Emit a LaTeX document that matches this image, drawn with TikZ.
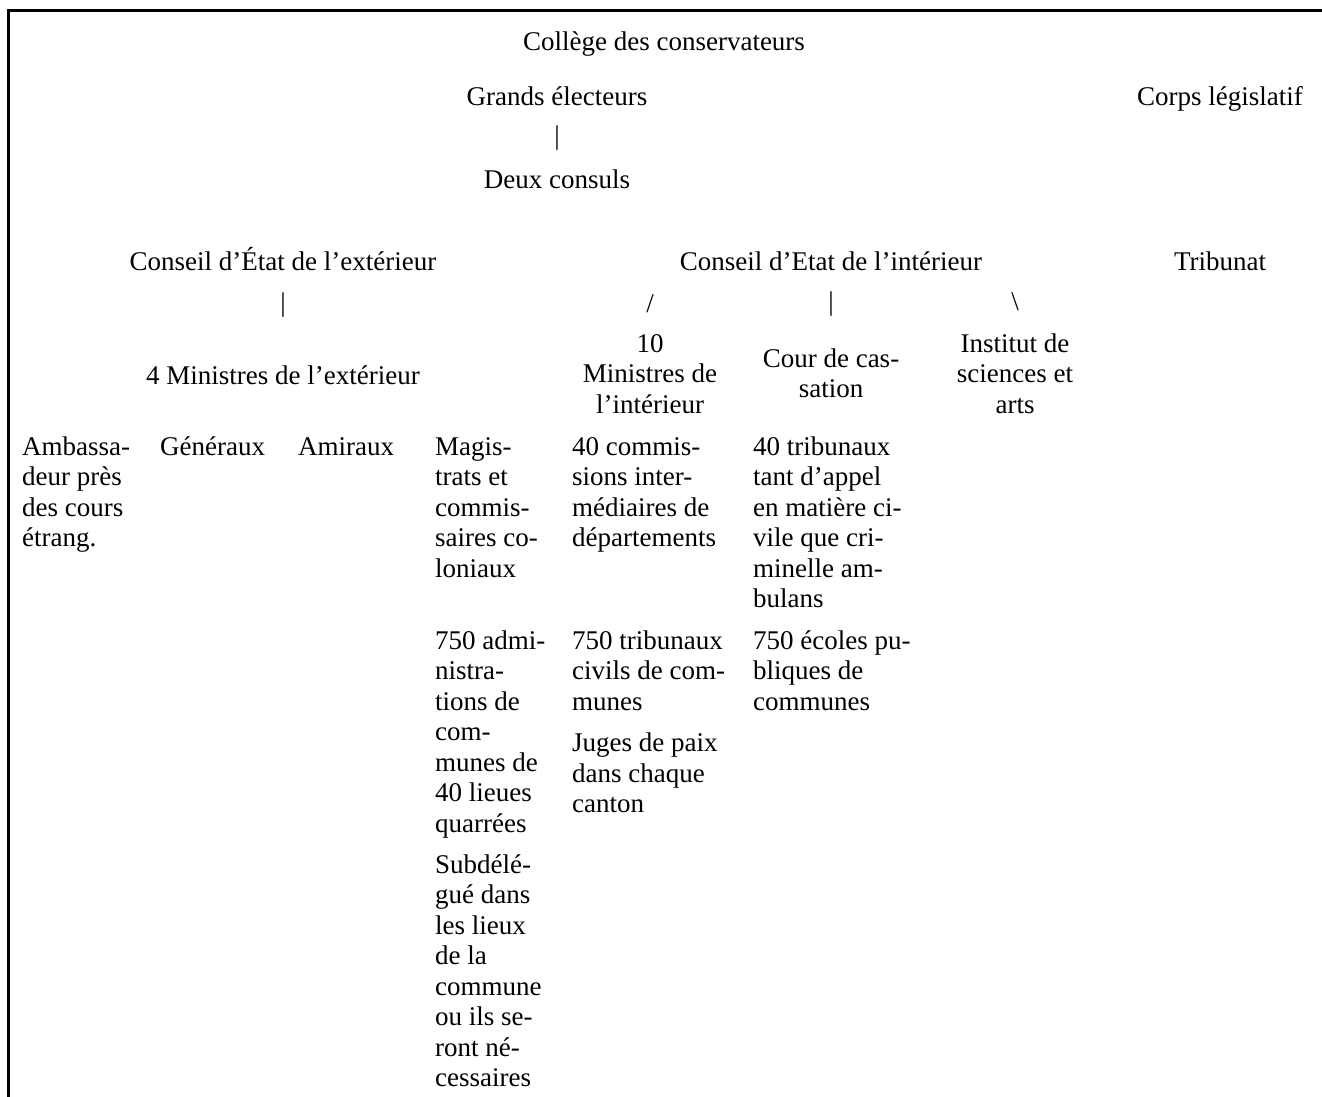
\documentclass[tikz,border=0pt]{standalone}
\usepackage{fontspec}
\setmainfont{Liberation Serif}
\usetikzlibrary{positioning}
\newcommand{\mainsz}{\fontsize{27pt}{30.5pt}\selectfont}
\newcommand{\fl}{\rule{0pt}{24pt}}

\begin{document}
\begin{tikzpicture}[x=1pt,y=-1pt,
    every node/.style={font=\mainsz,inner sep=0pt},
    txt/.style={anchor=base},
    tick/.style={anchor=center},
    head/.style={anchor=north,align=center},
    cell/.style={anchor=north west,align=left},
    frame/.style={line width=2.4pt}]
      \useasboundingbox (0,0) rectangle (1322,1097);
      % frame
      \draw[frame] (1322,10.5)--(8.5,10.5)--(8.5,1097);
      % top
      \node[txt] (coll) at (664,51) {Collège des conservateurs};
      \node[txt] (grands) at (557,106) {Grands électeurs};
      \node[txt] (corps) at (1220,106) {Corps législatif};
      \node[tick] (bar) at (557,138) {|};
      \node[txt] (deux) at (557,188) {Deux consuls};
      % councils
      \node[txt] (cext) at (283,270) {Conseil d’État de l’extérieur};
      \node[txt] (cint) at (831,270) {Conseil d’Etat de l’intérieur};
      \node[txt] (trib) at (1220,270) {Tribunat};
      \node[tick] (barext) at (283,305) {|};
      \node[tick] (slint) at (650,304) {/};
      \node[tick] (barint) at (831,304) {|};
      \node[tick] (bslint) at (1015,302) {\textbackslash};
      % ministers
      \node[txt] (minext) at (283,384) {4 Ministres de l’extérieur};
      \node[head] (minint) at (650,328) {\fl 10\\Ministres de\\l’intérieur};
      \node[head] (cour) at (831,343) {\fl Cour de cas-\\sation};
      \node[head] (inst) at (1015,328) {\fl Institut de\\sciences et\\arts};
      % row 1
      \node[cell] (amb) at (22,431) {\fl Ambassa-\\deur près\\des cours\\étrang.};
      \node[cell] (gen) at (160,431) {\fl Généraux};
      \node[cell] (ami) at (298,431) {\fl Amiraux};
      \node[cell] (mag) at (435,431) {\fl Magis-\\trats et\\commis-\\saires co-\\loniaux};
      \node[cell] (comm) at (572,431) {\fl 40 commis-\\sions inter-\\médiaires de\\départements};
      \node[cell] (tribap) at (753,431) {\fl 40 tribunaux\\tant d’appel\\en matière ci-\\vile que cri-\\minelle am-\\bulans};
      % row 2
      \node[cell] (adm) at (435,625) {\fl 750 admi-\\nistra-\\tions de\\com-\\munes de\\40 lieues\\quarrées};
      \node[cell] (tribciv) at (572,625) {\fl 750 tribunaux\\civils de com-\\munes};
      \node[cell] (ecol) at (753,625) {\fl 750 écoles pu-\\bliques de\\communes};
      % row 3
      \node[cell] (subd) at (435,849) {\fl Subdélé-\\gué dans\\les lieux\\de la\\commune\\ou ils se-\\ront né-\\cessaires};
      \node[cell] (juges) at (572,727.5) {\fl Juges de paix\\dans chaque\\canton};
\end{tikzpicture}
\end{document}
